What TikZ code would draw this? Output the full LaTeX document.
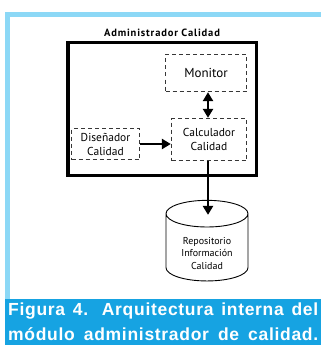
\documentclass[tikz,border=0pt]{standalone}
\usepackage{fontspec}
\setmainfont{PT Sans}
\newfontfamily\capfont[LetterSpace=4]{Liberation Sans}
\newfontfamily\titfont[LetterSpace=8]{PT Sans}
\usetikzlibrary{arrows.meta,shapes.geometric}
\definecolor{frameblue}{RGB}{140,216,246}
\definecolor{capblue}{RGB}{22,163,226}
\definecolor{dashgray}{RGB}{55,55,55}
\tikzset{
  modulo/.style={draw=dashgray, line width=1.3pt, dash pattern=on 4pt off 3pt, align=center, inner sep=0pt, font=\fontsize{11.5}{14}\selectfont},
  punta/.style={-{Triangle[length=9pt,width=10pt]}},
  flecha/.style={line width=2.8pt, punta},
  pie/.style={anchor=base west, text=white, inner sep=0pt, font=\capfont\bfseries\fontsize{17.5}{18}\selectfont}
}
\begin{document}
\begin{tikzpicture}[x=1pt,y=-1pt]
\useasboundingbox (0,0) rectangle (321,345);
% marco y pie de figura
\fill[frameblue] (5,12) rectangle (321,345);
\fill[white] (10,17) rectangle (321,299);
\fill[capblue] (5,299) rectangle (321,345);

\node [draw, line width=3.5pt, minimum width=188.5pt, minimum height=132.5pt] (admin) at (162,109) {};
\node [font=\titfont\bfseries\fontsize{10.5}{12}\selectfont] (titulo) at (162,32.5) {Administrador Calidad};

\node [modulo, minimum width=81pt, minimum height=37pt, font=\fontsize{13}{15}\selectfont] (monitor) at (206,73) {Monitor};
\node [modulo, minimum width=75pt, minimum height=42pt] (calc) at (209,139.5) {Calculador\\Calidad};
\node [modulo, minimum width=68pt, minimum height=31pt] (disenador) at (105.5,144) {Diseñador\\Calidad};

\node [draw, line width=0.9pt, cylinder, shape border rotate=90, aspect=0.5, minimum width=82pt, minimum height=67pt, align=center, inner sep=1pt, font=\fontsize{10}{12.5}\selectfont] (repo) at (207,249) {\rule{0pt}{16pt}Repositorio\\Información\\Calidad};

\draw [line width=2.8pt, {Triangle[length=9pt,width=10pt]}-{Triangle[length=9pt,width=10pt]}] ([xshift=-1pt]monitor.south -| calc.north) -- ([xshift=-1pt]calc.north);
\draw [flecha] (disenador.east) -- (disenador.east -| calc.west);
\draw [flecha] ([xshift=-1pt]calc.south) -- ([yshift=-15pt,xshift=-1pt]repo.north -| calc.south);

\node [pie] (pie1) at (8,315) {\makebox[310pt][s]{Figura 4. Arquitectura interna del}};
\node [pie] (pie2) at (8,340) {\makebox[310pt][s]{módulo administrador de calidad.}};
\end{tikzpicture}
\end{document}
